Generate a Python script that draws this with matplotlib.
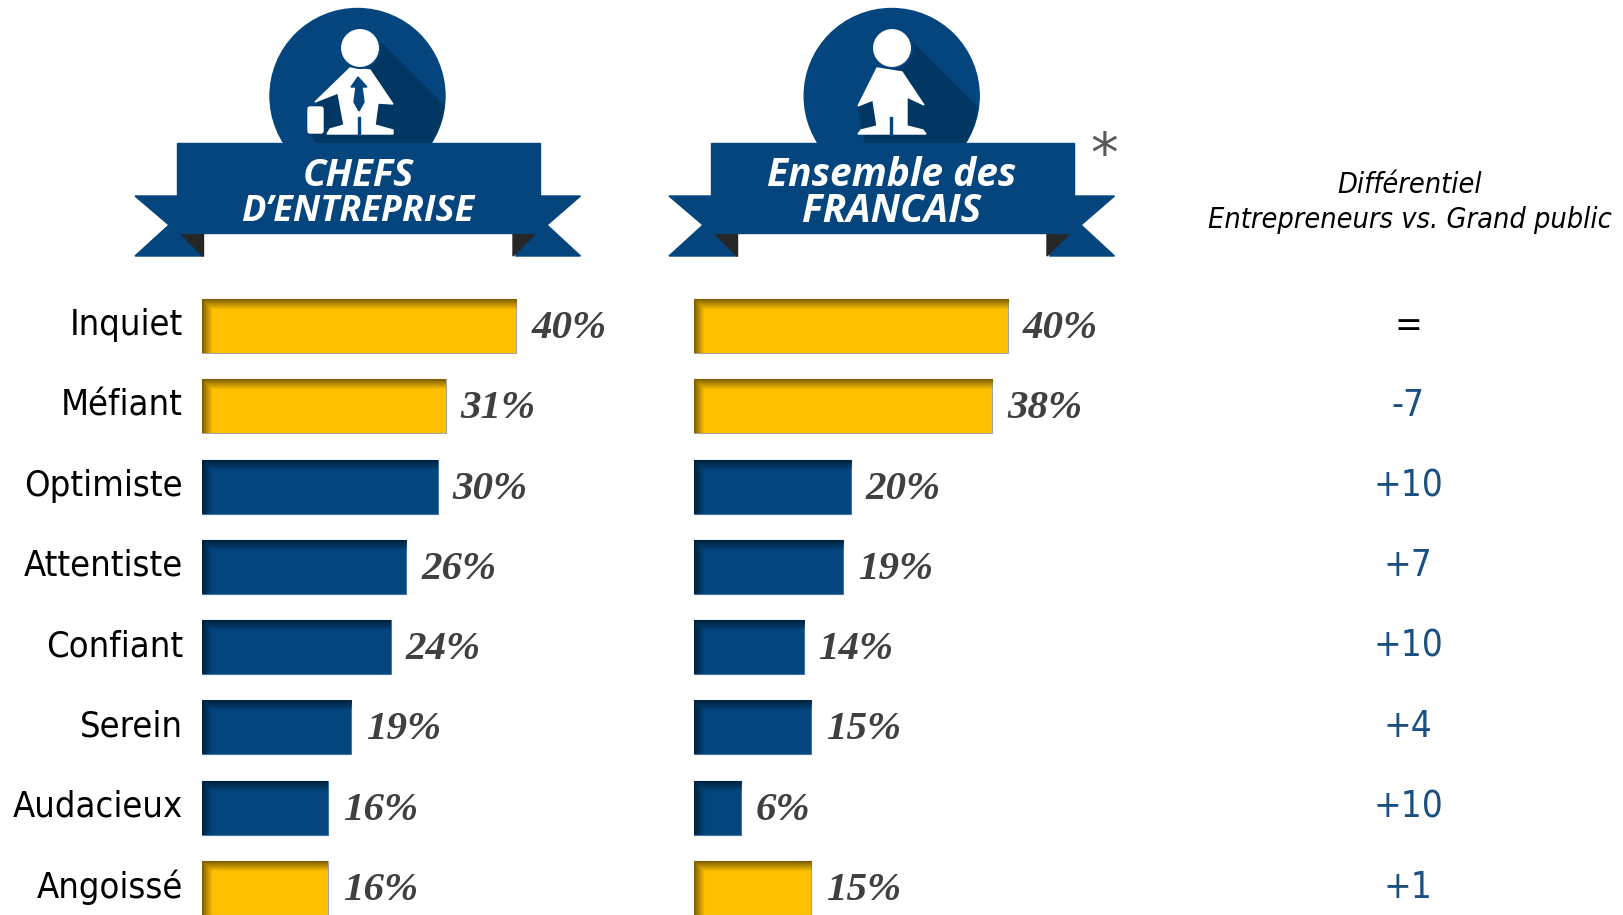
import matplotlib
matplotlib.use('Agg')
import matplotlib.pyplot as plt
from matplotlib.patches import Circle, Polygon, Rectangle, FancyBboxPatch
import numpy as np

categories = ['Inquiet', 'Méfiant', 'Optimiste', 'Attentiste', 'Confiant', 'Serein', 'Audacieux', 'Angoissé']
chefs = [40, 31, 30, 26, 24, 19, 16, 16]
francais = [40, 38, 20, 19, 14, 15, 6, 15]
differentiel = ['=', '-7', '+10', '+7', '+10', '+4', '+10', '+1']
yellow_rows = ['Inquiet', 'Méfiant', 'Angoissé']

W, H = 1623, 915
BLUE = '#03457C'
SHADOW = '#033763'
YELLOW = '#FFC000'
PX_PER_PCT = 7.86
ROW0 = 326
ROW_STEP = 80.3
LABEL_FONT = dict(family='Liberation Serif', style='italic', weight='bold', color='#404040')
TITLE_FONT = dict(family='Open Sans', style='italic', weight='bold', color='white')
BODY_FONT = dict(family='DejaVu Sans', stretch='condensed')

fig = plt.figure(figsize=(W / 100, H / 100), dpi=100)

# calque en pixels pour les bandeaux et les textes
bg = fig.add_axes([0, 0, 1, 1])
bg.set_xlim(0, W)
bg.set_ylim(H, 0)
bg.axis('off')


def pixel_axes(x0, x1, y0, y1):
    return fig.add_axes([x0 / W, 1 - y1 / H, (x1 - x0) / W, (y1 - y0) / H])


def shade(ax, y, v, color, h=0.336):
    # ombre interne en haut et a gauche de la barre
    dark = np.array(matplotlib.colors.to_rgb(color)) * 0.5
    n = 54
    m = int(v * PX_PER_PCT)
    yy = np.arange(n)[:, None]
    xx = np.arange(m)[None, :]
    alpha = np.maximum(np.clip(1 - yy / 10.0, 0, 1), np.clip(1 - xx / 10.0, 0, 1))
    img = np.zeros((n, m, 4))
    img[..., :3] = dark
    img[..., 3] = alpha
    ax.imshow(img, extent=(0, v, y + h, y - h), aspect='auto', interpolation='bilinear', zorder=3)


def draw_bars(x0, values):
    ax = pixel_axes(x0, x0 + PX_PER_PCT * 50, ROW0 - ROW_STEP / 2, ROW0 + 7.5 * ROW_STEP)
    ypos = np.arange(len(values))
    colors = [YELLOW if c in yellow_rows else BLUE for c in categories]
    edges = ['#A6A6A6' if c == YELLOW else '#3F76A6' for c in colors]
    ax.barh(ypos, values, height=0.672, color=colors, edgecolor=edges, linewidth=0.8, zorder=2)
    for y, v, c in zip(ypos, values, colors):
        shade(ax, y, v, c)
        ax.text(v + 1.9, y + 0.03, f'{v}%', fontsize=29.5, va='center', ha='left', **LABEL_FONT)
    ax.set_xlim(0, 50)
    ax.set_ylim(7.5, -0.5)
    ax.axis('off')
    return ax


def person(cx, hx, body, split_x, shadow_left):
    disc = Circle((cx, 96), 87.5, color=BLUE, zorder=1)
    bg.add_patch(disc)
    sh = Polygon([(hx + 18, 40), (hx + 100, 122), (hx + 100, 150)] + shadow_left, color=SHADOW, zorder=1.1)
    bg.add_patch(sh)
    sh.set_clip_path(disc)
    bg.add_patch(Polygon(body, color='white', zorder=2))
    bg.add_patch(Circle((hx, 48), 20, facecolor='white', edgecolor=BLUE, linewidth=1.5, zorder=2.2))
    bg.add_patch(Rectangle((split_x - 1, 117), 2, 18, color=BLUE, zorder=2.1))


def ribbon(dx, line1, line2, size1, size2):
    bx0, bx1 = 177 + dx, 539.5 + dx
    bg.add_patch(Polygon([(135 + dx, 196), (bx0 + 20, 196), (bx0 + 26, 256), (135 + dx, 256), (169 + dx, 225)], color=BLUE, zorder=3))
    bg.add_patch(Polygon([(580.5 + dx, 196), (bx1 - 20, 196), (bx1 - 26, 256), (580.5 + dx, 256), (547 + dx, 225)], color=BLUE, zorder=3))
    bg.add_patch(Rectangle((bx0 + 26, 233), bx1 - bx0 - 52, 30, color='white', zorder=3.1))
    bg.add_patch(Polygon([(180 + dx, 233), (203 + dx, 233), (203 + dx, 256)], color='#262626', zorder=3.2))
    bg.add_patch(Polygon([(513 + dx, 233), (536 + dx, 233), (513 + dx, 256)], color='#262626', zorder=3.2))
    bg.add_patch(Rectangle((bx0, 143), bx1 - bx0, 90, color=BLUE, zorder=3.3))
    bg.text(358 + dx, 175.5, line1, fontsize=size1, ha='center', va='center', zorder=4, **TITLE_FONT)
    bg.text(358 + dx, 212, line2, fontsize=size2, ha='center', va='center', zorder=4, **TITLE_FONT)


# chef d'entreprise
person(357.5, 360,
       [(350, 68), (370, 70), (393, 104), (378, 103), (375, 125), (393, 130), (393, 134), (327, 134), (330, 129),
        (344, 125), (338, 93), (315, 102)],
       359,
       [(322, 150), (310, 133), (318, 103), (345, 75)])
bg.add_patch(Polygon([(358, 77), (367, 87), (362, 87), (364, 102), (359, 111), (354, 102), (356, 87), (351, 87)],
                     color=BLUE, zorder=2.1))
bg.add_patch(FancyBboxPatch((310, 109), 11, 22, boxstyle='round,pad=2', color='white', zorder=2))
ribbon(0, 'CHEFS', 'D’ENTREPRISE', 27.5, 26)

# ensemble des francais
person(891.7, 892,
       [(877, 68), (902, 72), (924, 105), (907, 97), (907, 126), (923, 130), (926, 134), (858, 134), (861, 130),
        (877, 126), (873, 100), (858, 106)],
       891,
       [(867, 150), (858, 107), (877, 75)])
ribbon(534, 'Ensemble des', 'FRANCAIS', 28, 28)
bg.text(1104, 157, '*', fontsize=40, color='#595959', ha='center', va='center', family='DejaVu Sans', style='oblique')

draw_bars(202, chefs)
draw_bars(693.5, francais)

rows_y = [ROW0 + ROW_STEP * i for i in range(len(categories))]
for y, c, d in zip(rows_y, categories, differentiel):
    bg.text(183, y - 1, c, fontsize=26, ha='right', va='center', color='black', **BODY_FONT)
    bg.text(1408, y - 1, d, fontsize=26.5, ha='center', va='center', color='black' if d == '=' else '#1A4F82', **BODY_FONT)

bg.text(1410, 185, 'Différentiel', fontsize=20.7, ha='center', va='center', style='italic', **BODY_FONT)
bg.text(1410, 220, 'Entrepreneurs vs. Grand public', fontsize=20.7, ha='center', va='center', style='italic', **BODY_FONT)

fig.savefig('out.png', dpi=100)
